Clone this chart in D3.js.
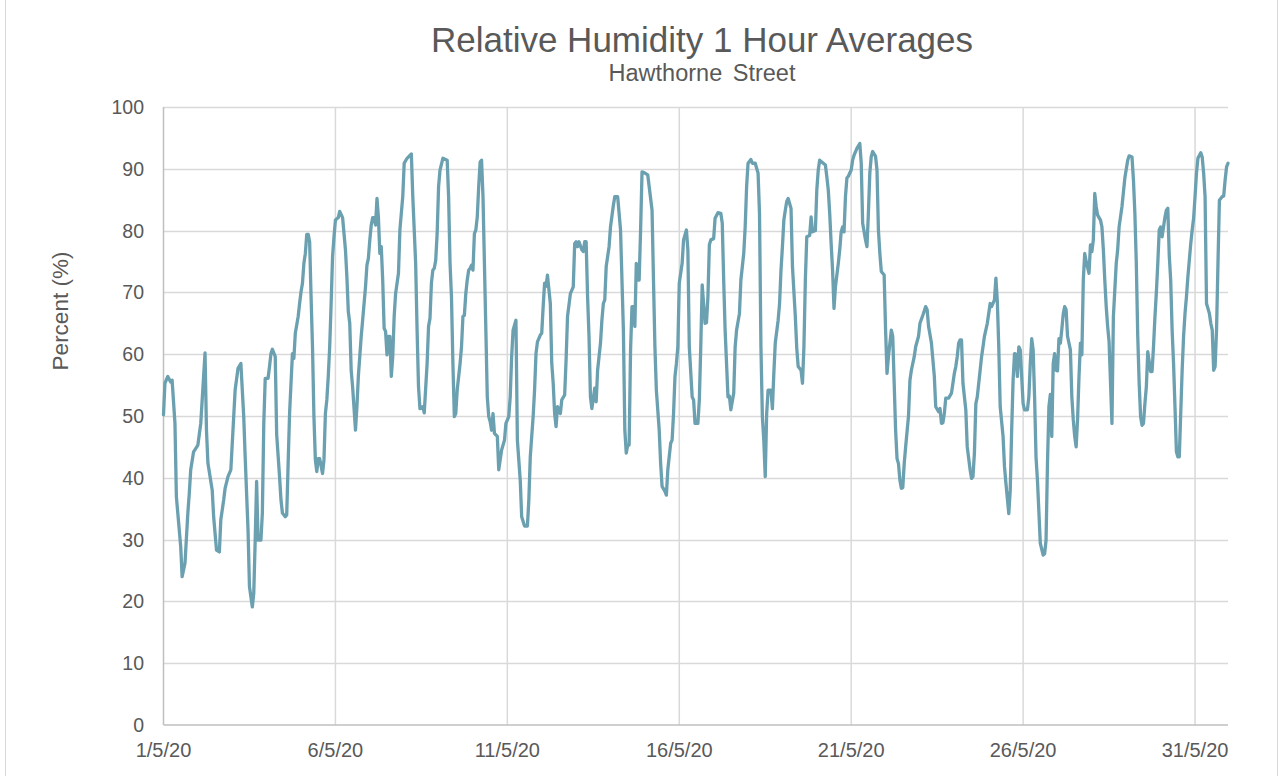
<!DOCTYPE html>
<html>
<head>
<meta charset="utf-8">
<script src="https://cdn.jsdelivr.net/npm/d3@7"></script>
<style>
  body { margin: 0; background: #fff; }
  svg text { font-family: "Liberation Sans", Arial, sans-serif; fill: #595959; }
</style>
</head>
<body>
<div id="chart"></div>
<script>
// hours since 1/5/20 00:00 and the hourly relative humidity read at those hours
var hours = [0,1,3,5,6,8,9,12,13,15,17,18,19,21,24,26,29,30,31,34,35,37,39,40,42,43,45,47,50,52,54,56,57,59,60,62,63,64,65,66,68,69,70,71,73,74,75,76,78,79,81,82,83,85,86,87,88,89,90,91,92,94,95,96,97,98,99,100,101,102,103,104,105,106,107,108,109,111,112,113,114,115,116,117,118,119,120,122,123,125,127,128,129,130,131,132,134,135,136,138,139,141,142,143,144,145,146,147,148,149,150,151,152,153,154,155,156,157,158,159,160,161,162,164,165,167,168,170,173,174,176,177,178,179,181,182,184,185,186,187,188,189,190,191,192,193,195,198,199,200,201,202,203,204,205,207,208,209,210,211,212,213,214,215,216,217,218,219,220,221,222,223,224,225,226,227,228,229,230,231,233,234,236,238,239,241,242,243,244,246,247,249,250,252,254,255,256,258,259,260,261,263,264,265,266,267,268,270,271,272,273,274,275,277,278,280,281,282,284,286,287,288,289,290,292,293,294,295,296,297,298,299,301,302,303,305,306,307,308,309,311,312,314,315,317,319,320,321,322,323,324,325,326,327,328,329,330,331,332,333,334,336,338,339,341,342,343,344,346,347,348,350,351,352,354,355,356,357,358,359,360,362,363,365,366,367,369,370,371,373,374,375,376,378,379,380,381,382,384,385,387,389,390,391,392,394,395,396,398,399,400,402,403,405,406,407,408,410,411,413,415,416,417,418,419,420,421,422,424,425,426,427,429,430,431,432,433,434,435,436,438,439,441,442,443,445,446,447,448,449,451,452,453,455,456,457,458,459,462,463,464,465,466,467,468,469,471,472,473,474,475,476,477,478,480,481,482,484,486,487,488,490,491,492,493,494,495,497,498,499,500,501,503,504,505,506,508,509,510,511,512,513,514,515,516,517,518,520,521,522,524,525,527,528,530,532,533,534,536,538,539,541,542,543,544,545,546,548,550,551,552,553,554,555,556,557,558,560,561,563,564,565,566,567,568,570,571,572,573,575,577,578,580,581,582,583,584,586,587,588,590,591,592,593,594,595,596,597,598,599,600,601,603,604,605,606,607,608,609,610,611,612,614,615,616,617,618,619,620,621,622,623,624,625,626,627,628,629,630,631,633,634,635,636,637,638,639,640,641,642,643,644,646,647,648,649,650,651,652,654,655,656,657,658,659,660,662,663,664,665,666,667,669,671,673,674,676,677,678,679,680,681,682,683,684,685,686,687,689,690,691,692,693,694,695,696,697,699,700,701,702,703,704,705,706,707,708,709,710,711,712,713,714,715,717,718,719,720,721,722,724,725,726,727,728,730,731,732,733,734,735,736,737,739,740,741,742,743];
var humidity = [50.2,55.3,56.4,55.5,55.8,48.8,36.9,28.9,24.0,26.2,34.3,37.5,41.3,44.2,45.3,48.8,60.2,47.7,42.4,38.0,33.7,28.3,28.0,33.2,36.4,38.3,40.2,41.3,54.2,57.7,58.5,49.9,43.4,31.6,22.4,19.1,21.3,29.9,39.4,29.9,29.9,34.3,48.8,56.1,56.1,58.0,60.1,60.8,59.6,47.0,40.2,36.4,34.3,33.7,34.0,42.4,50.4,55.3,60.1,59.3,63.4,66.1,68.2,70.1,71.5,74.7,76.3,79.4,79.4,78.2,69.3,61.2,49.9,42.9,41.0,43.1,43.1,40.7,42.9,50.4,52.6,56.4,61.2,68.2,75.8,79.0,81.7,82.1,83.1,82.1,76.9,72.5,66.9,65.0,57.4,54.7,47.7,51.5,56.4,62.9,65.5,70.9,74.4,75.5,78.5,80.9,82.1,82.1,80.9,85.2,82.2,76.3,77.4,72.0,64.2,63.7,59.9,62.9,62.9,56.4,59.6,66.1,69.8,73.1,80.1,85.5,90.9,91.7,92.4,85.5,74.7,63.9,54.7,51.2,51.5,50.5,58.5,64.5,65.8,71.5,73.6,73.9,75.2,79.5,87.1,89.8,91.7,91.4,85.5,74.7,69.3,58.5,49.9,50.4,54.2,58.5,61.2,66.1,66.3,69.8,72.0,73.6,73.9,74.4,73.6,79.5,80.1,82.2,87.1,91.1,91.4,85.5,74.7,63.9,53.1,49.9,49.1,47.7,50.4,47.2,46.7,41.3,44.5,46.1,48.8,49.9,53.1,59.6,63.9,65.5,46.1,39.6,33.7,32.2,32.2,36.4,43.4,49.9,54.2,60.1,62.0,63.1,63.4,67.7,71.5,71.0,72.8,68.2,58.5,55.3,50.4,48.3,51.5,50.4,52.6,53.4,59.1,66.1,69.8,70.9,77.9,78.2,77.4,78.2,76.9,76.6,78.2,78.2,69.3,62.9,53.1,51.2,54.5,52.3,57.4,61.8,65.5,68.2,68.8,74.2,77.4,80.6,84.1,85.5,85.5,80.1,72.0,63.9,47.7,44.0,45.3,45.3,60.7,67.7,67.7,64.5,74.7,72.0,72.0,80.1,89.5,89.3,89.0,87.1,83.3,72.0,61.2,54.2,47.7,42.3,38.6,37.8,37.2,41.3,45.6,46.1,50.4,56.4,58.5,61.2,71.5,74.7,78.5,80.1,76.9,61.2,53.1,52.6,48.8,48.8,52.6,61.2,71.2,65.0,65.1,69.3,77.7,78.5,78.7,82.0,82.9,82.8,81.2,72.0,63.9,53.1,53.2,51.0,53.7,61.2,63.9,66.6,72.0,76.3,80.6,87.1,90.9,91.5,90.9,90.9,89.3,82.8,61.2,49.9,46.1,40.2,50.4,54.2,54.2,51.2,56.9,61.8,65.5,68.2,73.6,77.4,81.7,83.3,84.7,85.2,83.6,74.2,66.1,61.0,58.0,57.4,55.3,61.2,72.0,79.0,79.2,82.2,79.8,80.0,86.6,89.8,91.4,91.2,90.6,88.7,86.6,82.8,77.9,73.6,67.4,70.9,74.7,76.9,79.8,80.6,79.8,85.5,88.5,88.8,89.8,91.4,92.2,93.3,94.1,90.9,81.2,78.5,77.4,82.8,89.3,92.0,92.8,92.0,89.8,80.1,76.3,73.4,72.8,63.9,56.9,59.6,63.9,62.9,55.3,47.7,43.1,42.3,39.6,38.3,38.4,42.3,45.0,50.0,55.8,57.4,59.6,61.2,62.9,65.0,66.3,67.7,67.2,64.5,61.8,56.5,51.5,50.7,51.2,48.8,48.9,50.4,52.9,52.9,53.7,55.3,56.9,58.0,59.6,61.8,62.3,62.3,55.3,51.0,45.0,41.3,39.9,40.2,44.0,52.0,53.1,57.4,59.6,61.2,62.9,65.0,68.2,67.7,68.8,72.3,68.5,61.2,51.5,46.7,41.8,39.1,34.2,38.0,47.7,55.8,60.1,60.0,56.4,61.2,60.7,56.4,52.0,51.0,51.0,53.1,58.5,62.5,60.7,53.1,43.4,39.6,34.5,29.4,27.5,27.7,29.9,42.3,51.5,53.5,46.7,58.5,60.1,57.4,57.3,62.5,61.8,64.0,66.5,67.7,67.2,62.9,60.7,53.1,49.4,46.7,45.0,49.4,56.4,61.8,59.9,72.0,76.3,75.0,73.1,77.7,76.6,78.5,86.0,83.9,82.5,81.7,80.6,76.9,72.0,67.7,64.5,62.0,48.8,66.1,70.4,74.7,76.9,80.6,83.9,88.5,91.4,92.1,91.9,88.2,82.8,74.7,63.0,55.3,49.9,48.5,48.8,52.0,54.7,60.4,57.2,57.2,61.2,66.0,70.0,74.7,80.1,80.6,79.0,82.2,83.3,83.6,76.0,72.0,63.9,58.5,51.5,44.2,43.4,43.4,50.4,57.4,62.9,66.6,69.3,72.5,77.9,80.1,82.0,85.5,89.3,91.7,92.6,91.9,89.3,85.5,68.2,66.6,65.0,63.9,57.4,58.0,63.9,74.7,84.9,85.5,85.6,88.2,90.3,90.9];
var yTicks = [0,10,20,30,40,50,60,70,80,90,100];
var xTickDays = [1,6,11,16,21,26,31];
var title = "Relative Humidity 1 Hour Averages";
var subtitle = "Hawthorne Street";
var yLabel = "Percent (%)";

var width = 1282, height = 776;
var start = new Date(2020, 4, 1, 0);
var end = new Date(2020, 4, 31, 23);

var data = hours.map(function(h, i) {
    return {date: d3.timeHour.offset(start, h), value: humidity[i]};
});

var svg = d3.select('#chart').append('svg')
    .attr('width', width)
    .attr('height', height);

// outer chart border
svg.append('rect')
    .attr('x', 5.5).attr('y', -2)
    .attr('width', 1272).attr('height', height + 10)
    .attr('fill', 'none')
    .attr('stroke', '#d9d9d9');

var x = d3.scaleTime().domain([start, end]).range([163.5, 1228]);
var y = d3.scaleLinear().domain([0, 100]).range([725, 107]);

var xTicks = xTickDays.map(d => new Date(2020, 4, d));

// gridlines
svg.append('g').selectAll('line')
    .data(yTicks.slice(1))
    .enter().append('line')
    .attr('x1', x(start)).attr('x2', x(end))
    .attr('y1', d => Math.round(y(d)) + 0.5).attr('y2', d => Math.round(y(d)) + 0.5)
    .attr('stroke', '#d9d9d9').attr('stroke-width', 1.5);

svg.append('g').selectAll('line')
    .data(xTicks.slice(1))
    .enter().append('line')
    .attr('x1', d => x(d)).attr('x2', d => x(d))
    .attr('y1', y(100)).attr('y2', y(0))
    .attr('stroke', '#d9d9d9').attr('stroke-width', 1.5);

// axis lines
svg.append('line')
    .attr('x1', x(start)).attr('x2', x(start))
    .attr('y1', y(100)).attr('y2', y(0))
    .attr('stroke', '#bfbfbf').attr('stroke-width', 1.5);
svg.append('line')
    .attr('x1', x(start)).attr('x2', x(end))
    .attr('y1', y(0)).attr('y2', y(0))
    .attr('stroke', '#bfbfbf').attr('stroke-width', 1.5);

// y tick labels
svg.append('g').selectAll('text')
    .data(yTicks)
    .enter().append('text')
    .attr('x', 144)
    .attr('y', d => y(d) + 7)
    .attr('text-anchor', 'end')
    .attr('font-size', 19.5)
    .text(d => d);

// x tick labels
var fmt = d3.timeFormat('%-d/%-m/%y');
svg.append('g').selectAll('text')
    .data(xTicks)
    .enter().append('text')
    .attr('x', d => x(d))
    .attr('y', 757)
    .attr('text-anchor', 'middle')
    .attr('font-size', 20)
    .text(d => fmt(d));

// line
var line = d3.line()
    .x(d => x(d.date))
    .y(d => y(d.value));

svg.append('path')
    .datum(data)
    .attr('d', line)
    .attr('fill', 'none')
    .attr('stroke', '#6ba0b0')
    .attr('stroke-width', 3.3)
    .attr('stroke-linejoin', 'round')
    .attr('stroke-linecap', 'round');

// titles
svg.append('text')
    .attr('x', 702).attr('y', 52)
    .attr('text-anchor', 'middle')
    .attr('font-size', 35)
    .text(title);

svg.append('text')
    .attr('x', 702).attr('y', 81)
    .attr('text-anchor', 'middle')
    .attr('font-size', 23.5)
    .style('word-spacing', '4px')
    .text(subtitle);

svg.append('text')
    .attr('transform', 'translate(68,311) rotate(-90)')
    .attr('text-anchor', 'middle')
    .attr('font-size', 22.5)
    .text(yLabel);
</script>
</body>
</html>
